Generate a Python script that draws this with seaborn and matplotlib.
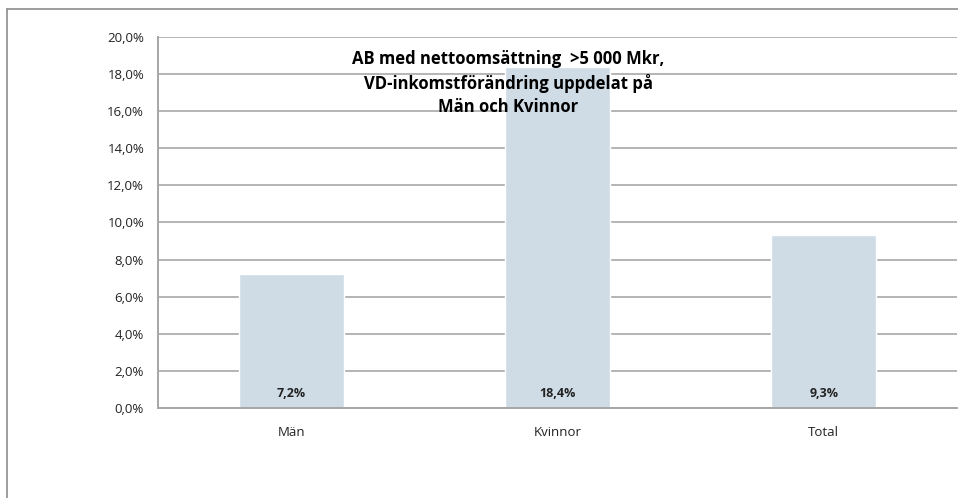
import matplotlib
matplotlib.use("Agg")
import matplotlib.pyplot as plt
import matplotlib.ticker as mticker
from matplotlib.lines import Line2D
import seaborn as sns
import pandas as pd

kategorier = ['Män', 'Kvinnor', 'Total']
forandring = [7.2, 18.4, 9.3]
titel = 'AB med nettoomsättning  >5 000 Mkr,\nVD-inkomstförändring uppdelat på\nMän och Kvinnor'

sns.set_style('white')
plt.rcParams['font.family'] = ['Open Sans', 'DejaVu Sans']

W, H = 958, 498
fig = plt.figure(figsize=(W / 100, H / 100), dpi=100)
ax = fig.add_axes([158 / W, 1 - 408 / H, (957 - 158) / W, (408 - 37) / H])

df = pd.DataFrame({'kat': kategorier, 'val': forandring})
sns.barplot(data=df, x='kat', y='val', color='#cfdce6', saturation=1,
            width=0.395, ax=ax, zorder=2)

ax.set_ylim(0, 20)
ax.set_xlim(-0.5, 2.5)
ax.yaxis.set_major_locator(mticker.MultipleLocator(2))
ax.yaxis.set_major_formatter(mticker.FuncFormatter(lambda v, p: f'{v:.1f}%'.replace('.', ',')))
ax.grid(axis='y', color='#b4b4b4', linewidth=1.4, zorder=0)
ax.set_axisbelow(True)

for s in ['top', 'right']:
    ax.spines[s].set_visible(False)
for s in ['left', 'bottom']:
    ax.spines[s].set_color('#a6a6a6')
    ax.spines[s].set_linewidth(1.4)

ax.set_xlabel('')
ax.set_ylabel('')
ax.tick_params(axis='y', length=6, color='#a6a6a6', width=1, labelsize=9.5,
               labelcolor='#222222', pad=4)
ax.tick_params(axis='x', which='major', length=0, labelsize=9.5, labelcolor='#222222', pad=13)
ax.set_xticks([0.5, 1.5, 2.5], minor=True)
ax.tick_params(axis='x', which='minor', length=5, color='#a6a6a6', width=1)

for i, v in enumerate(forandring):
    ax.text(i, 0.8, f'{v:.1f}%'.replace('.', ','), ha='center', va='center',
            fontsize=9, fontweight='bold', color='#222222', zorder=3)

fig.text(508 / W, 1 - 83 / H, titel, ha='center', va='center', fontsize=12,
         fontweight='bold', color='#000000', linespacing=1.35, zorder=5)

# outer chart frame
fig.add_artist(Line2D([7 / W, 1], [1 - 9 / H, 1 - 9 / H], color='#8c8c8c', linewidth=1.2))
fig.add_artist(Line2D([7 / W, 7 / W], [0, 1 - 9 / H], color='#8c8c8c', linewidth=1.2))

fig.savefig('out.png', dpi=100)
